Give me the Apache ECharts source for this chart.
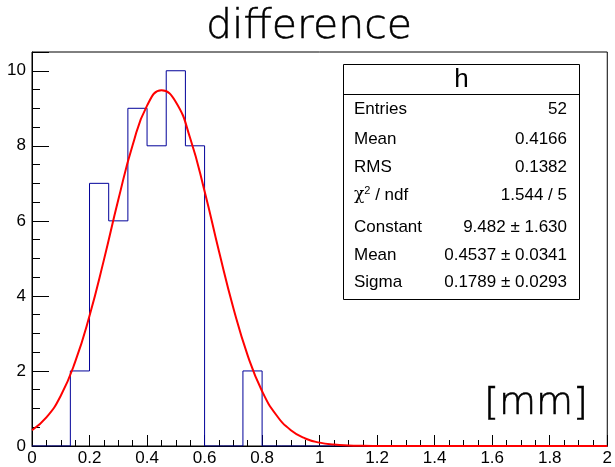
<!DOCTYPE html>
<html>
<head>
<meta charset="utf-8">
<script src="https://cdn.jsdelivr.net/npm/echarts@6/dist/echarts.min.js"></script>
<style>
html,body{margin:0;padding:0;background:#fff;}
#chart{width:615px;height:467px;}
</style>
</head>
<body>
<div id="chart"></div>
<script>
// ---- data ----
const titleText = 'difference';
const unitText = '[mm]';
const histName = 'h';
const binLow = 0;
const binHigh = 2;
const binCounts = [0,0,2,7,6,9,8,10,8,0,0,2,0,0,0,0,0,0,0,0,0,0,0,0,0,0,0,0,0,0];
const fitX = [0,0.05,0.1,0.15,0.2,0.25,0.3,0.35,0.4,0.45,0.5,0.55,0.6,0.65,0.7,0.75,0.8,0.85,0.9,0.95,1.0,1.05,1.1,1.15,1.2,1.3,1.5,2.0];
const fitY = [0.42,0.76,1.34,2.24,3.47,4.96,6.56,8.02,9.07,9.48,9.17,8.20,6.79,5.19,3.68,2.41,1.46,0.82,0.42,0.20,0.09,0.037,0.014,0.005,0.002,0,0,0];
const xTicks = ['0','0.2','0.4','0.6','0.8','1','1.2','1.4','1.6','1.8','2'];
const yTicks = ['0','2','4','6','8','10'];
const statNames = ['Entries','Mean','RMS','{chi|χ}{sup|2} / ndf','Constant','Mean','Sigma'];
const statValues = ['52','0.4166','0.1382','1.544 / 5','9.482 ± 1.630','0.4537 ± 0.0341','0.1789 ± 0.0293'];

// ---- build ----
const nBins = binCounts.length;
const binW = (binHigh - binLow) / nBins;
const histData = binCounts.map((c, k) => [binLow + k * binW, c]);
histData.push([binHigh, binCounts[nBins - 1]]);
const fitData = fitX.map((x, i) => [x, fitY[i]]);

const chart = echarts.init(document.getElementById('chart'), null, {renderer: 'canvas'});

const font = 'Liberation Sans, Arial, Helvetica, sans-serif';
const rowY = [109, 139, 167, 195, 227, 255, 282];
const boxL = 343, boxR = 579, boxT = 64, boxB = 299, boxSep = 94;

const graphics = [
  {type: 'text', style: {text: titleText, x: 309, y: 27, align: 'center', verticalAlign: 'middle', font: '200 41px "DejaVu Sans", sans-serif', fill: '#000', stroke: '#000', lineWidth: 0.5}, z: 10},
  {type: 'text', style: {text: unitText, x: 536, y: 404, align: 'center', verticalAlign: 'middle', font: '200 38px "DejaVu Sans", sans-serif', fill: '#000', stroke: '#000', lineWidth: 0.6}, z: 10},
  {type: 'rect', shape: {x: boxL + 0.5, y: boxT + 0.5, width: boxR - boxL, height: boxB - boxT}, style: {fill: '#fff', stroke: '#000', lineWidth: 1}, z: 20},
  {type: 'line', shape: {x1: boxL, y1: boxSep + 0.5, x2: boxR, y2: boxSep + 0.5}, style: {stroke: '#000', lineWidth: 1}, z: 21},
  {type: 'text', style: {text: histName, x: (boxL + boxR) / 2 + 0.5, y: 80, align: 'center', verticalAlign: 'middle', font: '26px ' + font, fill: '#000'}, z: 21}
];
statNames.forEach((n, i) => {
  graphics.push({type: 'text', style: {text: n, x: 354, y: rowY[i], align: 'left', verticalAlign: 'middle', font: '17px ' + font, fill: '#000',
    rich: {chi: {font: '17px "DejaVu Serif", serif', fill: '#000'}, sup: {font: '11px ' + font, fill: '#000', verticalAlign: 'top', padding: [0, 0, 8, 0]}}}, z: 21});
  graphics.push({type: 'text', style: {text: statValues[i], x: 567, y: rowY[i], align: 'right', verticalAlign: 'middle', font: '17px ' + font, fill: '#000'}, z: 21});
});

chart.setOption({
  animation: false,
  backgroundColor: '#fff',
  grid: {left: 32, right: 3, top: 52, bottom: 19, show: true, borderColor: '#000', borderWidth: 1, backgroundColor: 'transparent'},
  xAxis: {
    type: 'value', min: binLow, max: binHigh, interval: 0.2,
    axisLine: {show: true, onZero: false, lineStyle: {color: '#000', width: 1}},
    axisTick: {show: true, inside: true, length: 11, lineStyle: {color: '#000'}},
    minorTick: {show: true, splitNumber: 4, length: 6, lineStyle: {color: '#000'}},
    splitLine: {show: false},
    axisLabel: {color: '#000', fontSize: 17, fontFamily: font, margin: 4,
      formatter: (v) => { const i = Math.round(v / 0.2); return xTicks[i] !== undefined ? xTicks[i] : ''; }}
  },
  yAxis: {
    type: 'value', min: 0, max: 10.5, interval: 2,
    axisLine: {show: true, onZero: false, lineStyle: {color: '#000', width: 1}},
    axisTick: {show: true, inside: true, length: 17, lineStyle: {color: '#000'}},
    minorTick: {show: true, splitNumber: 4, length: 8, lineStyle: {color: '#000'}},
    splitLine: {show: false},
    axisLabel: {color: '#000', fontSize: 17, fontFamily: font, margin: 6, showMaxLabel: false,
      formatter: (v) => { const i = Math.round(v / 2); return (Math.abs(v - i * 2) < 1e-6 && yTicks[i] !== undefined) ? yTicks[i] : ''; }}
  },
  series: [
    {type: 'line', data: histData, step: 'end', symbol: 'none', lineStyle: {color: '#000099', width: 1}, z: 3},
    {type: 'line', data: fitData, smooth: 0.5, symbol: 'none', lineStyle: {color: '#ff0000', width: 2}, z: 4}
  ],
  graphic: graphics
});
</script>
</body>
</html>
